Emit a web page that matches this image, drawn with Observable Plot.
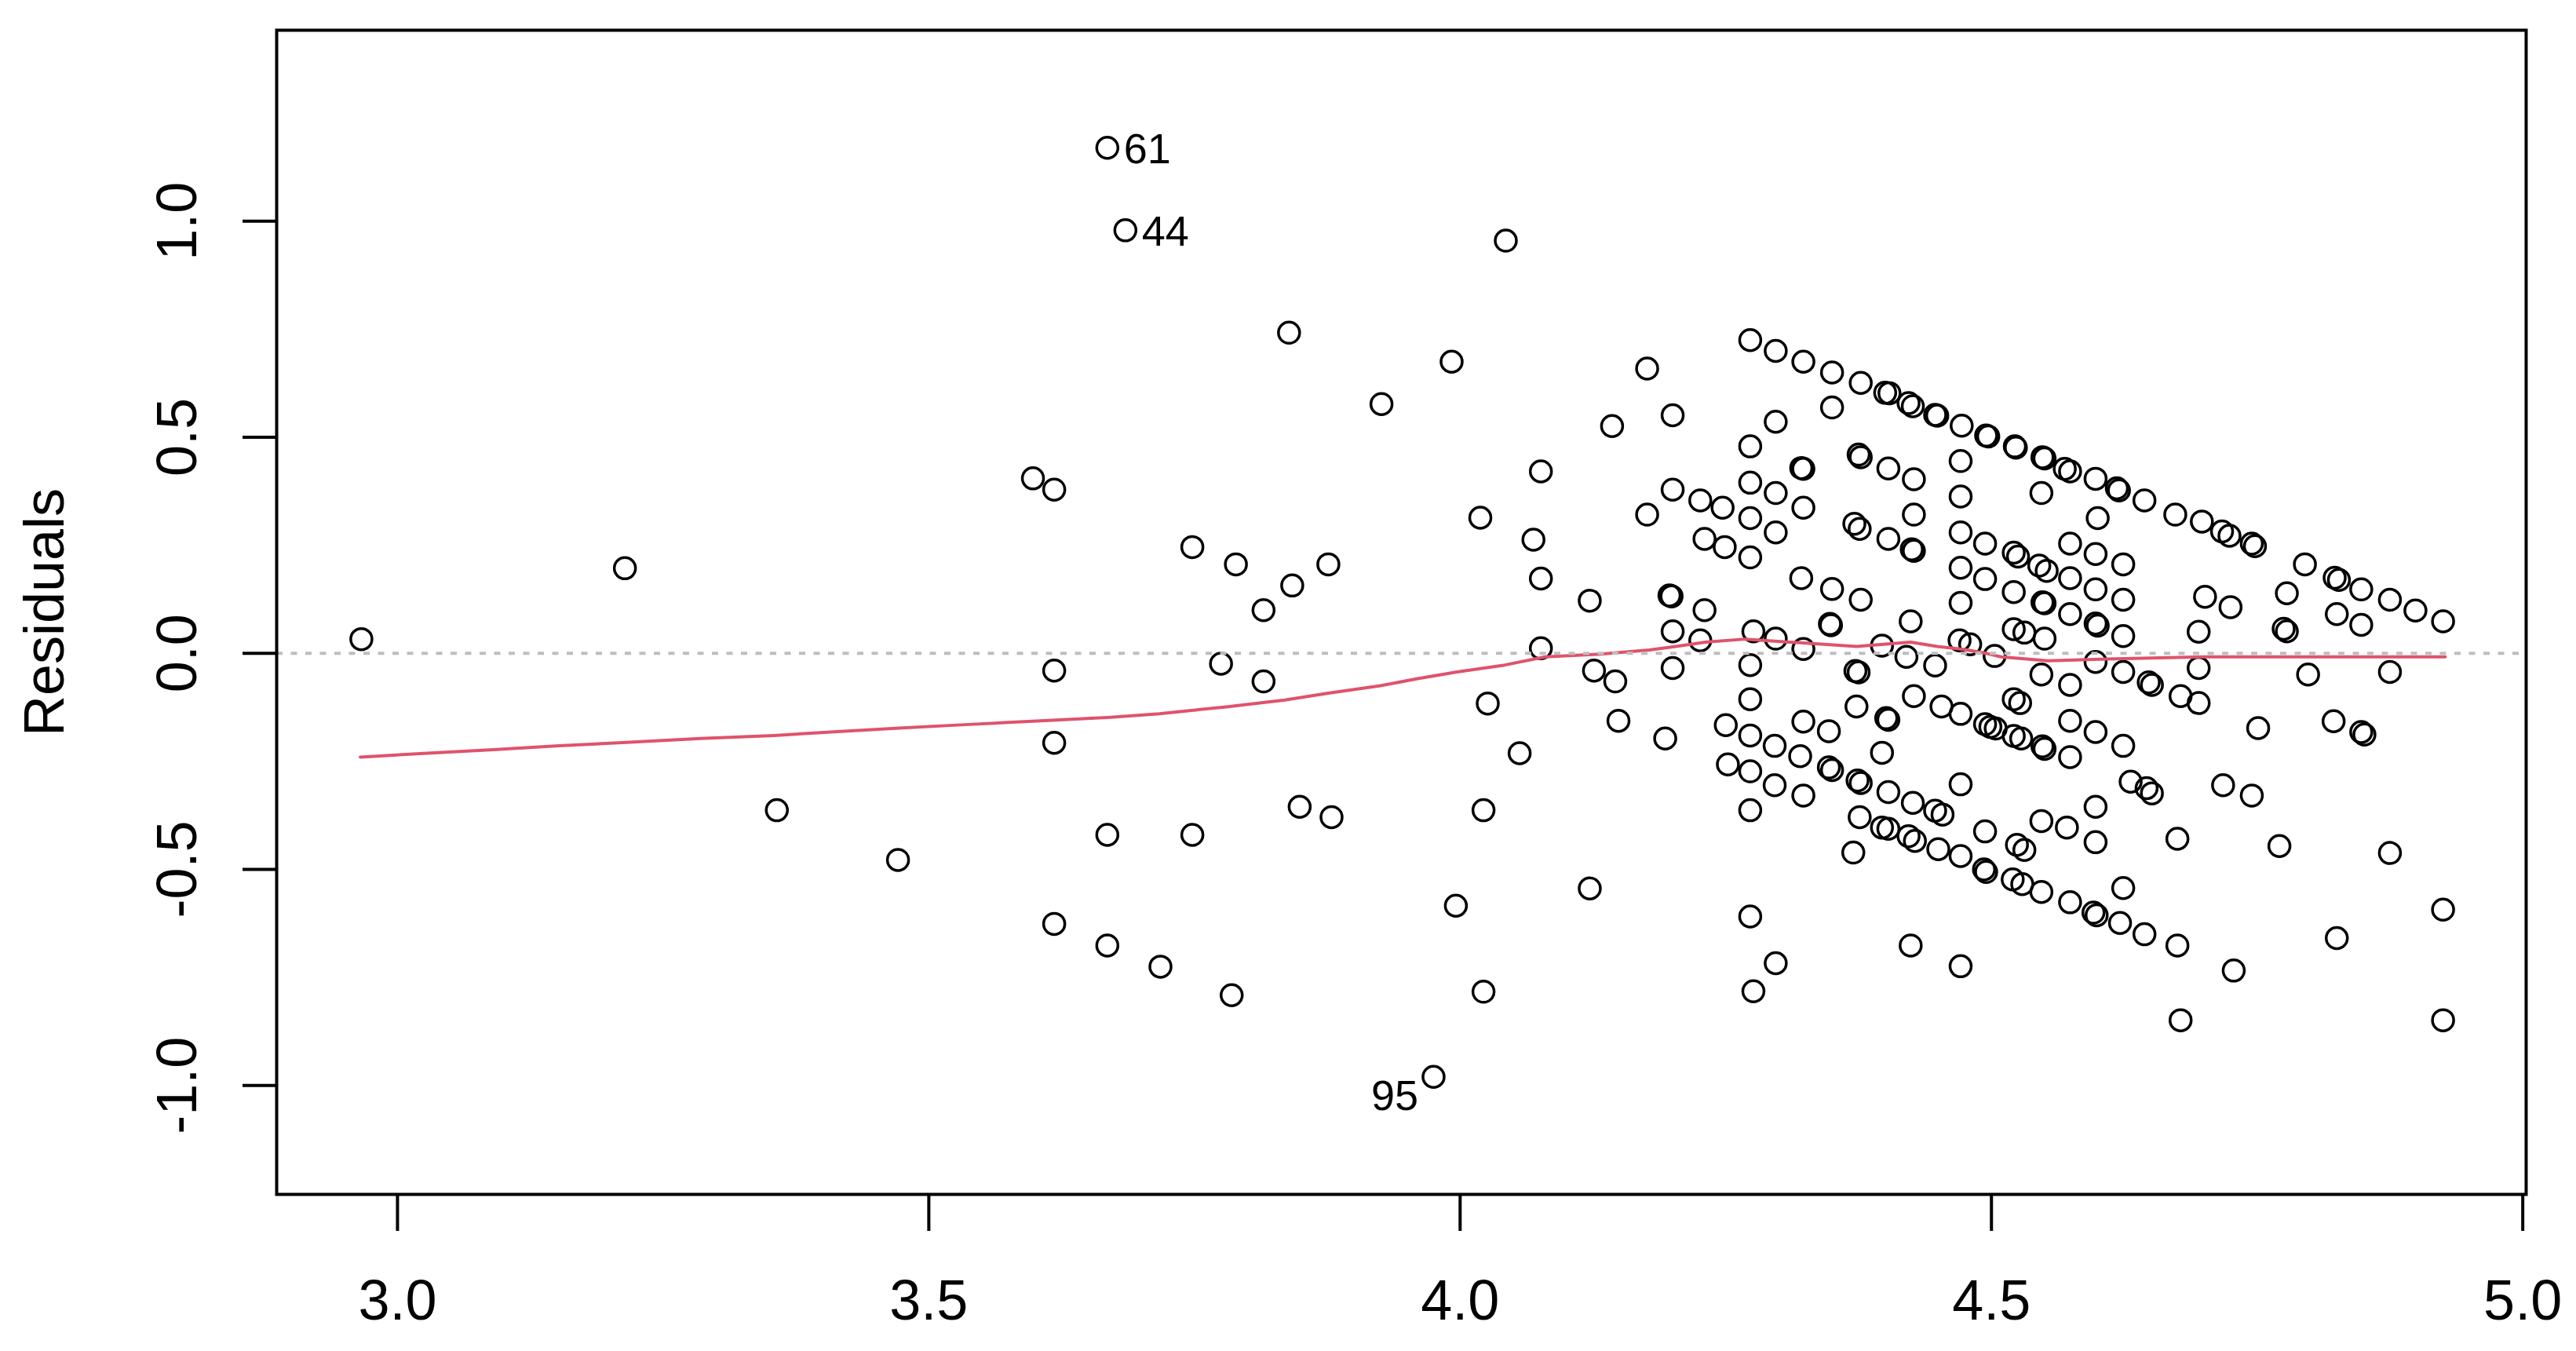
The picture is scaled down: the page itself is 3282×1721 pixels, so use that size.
<!DOCTYPE html>
<html>
<head>
<meta charset="utf-8">
<script src="https://cdn.jsdelivr.net/npm/d3@7"></script>
<script src="https://cdn.jsdelivr.net/npm/@observablehq/plot@0.6"></script>
<style>
  html, body { margin: 0; padding: 0; background: #ffffff; }
  #chart { width: 3282px; height: 1721px; }
</style>
</head>
<body>
<div id="chart"></div>
<script>
// Fitted values and residuals
const fitted = [
  2.966, 3.214, 3.357, 3.471, 3.668, 3.685, 4.043, 3.839, 3.992, 3.926, 4.176, 4.143, 3.598, 3.618, 4.076, 4.019, 4.069, 4.076, 4.122, 4.176, 3.748, 3.789, 3.876, 3.842, 3.815,
  3.618, 3.775, 3.815, 4.076, 4.126, 4.146, 4.026, 4.149, 4.056, 3.618, 3.849, 3.879, 4.022, 3.668, 3.748, 4.122, 3.996, 3.618, 3.668, 3.718, 3.785, 4.022, 3.975,
  4.273, 4.297, 4.323, 4.350, 4.377, 4.400, 4.404, 4.422, 4.426, 4.447, 4.449, 4.472, 4.495, 4.497, 4.522, 4.523, 4.548, 4.550, 4.569, 4.574,
  4.350, 4.200, 4.297, 4.273, 4.321, 4.323, 4.375, 4.377, 4.403, 4.427, 4.471, 4.471, 4.547, 4.200, 4.226, 4.247, 4.273, 4.297, 4.323, 4.273,
  4.297, 4.230, 4.249, 4.273, 4.371, 4.376, 4.403, 4.425, 4.427, 4.427, 4.471, 4.494, 4.521, 4.525, 4.471, 4.494, 4.545, 4.552, 4.574, 4.574,
  4.521, 4.548, 4.550, 4.574, 4.471, 4.321, 4.350, 4.377, 4.348, 4.349, 4.424, 4.197, 4.199, 4.230, 4.200, 4.226, 4.276, 4.297, 4.323, 4.397,
  4.420, 4.447, 4.470, 4.480, 4.503, 4.521, 4.531, 4.550,
  4.200, 4.273, 4.372, 4.375, 4.547, 4.574, 4.273, 4.373, 4.401, 4.403, 4.427, 4.453, 4.471, 4.494, 4.499, 4.504, 4.521, 4.528, 4.548, 4.550,
  4.574, 4.521, 4.527, 4.574, 4.193, 4.250, 4.273, 4.296, 4.320, 4.347, 4.350, 4.374, 4.377, 4.323, 4.347, 4.397, 4.252, 4.273, 4.296, 4.323,
  4.273, 4.403, 4.426, 4.447, 4.454, 4.471, 4.376, 4.397, 4.403, 4.422, 4.428, 4.450, 4.471, 4.370, 4.493, 4.495, 4.520, 4.529, 4.547, 4.574,
  4.494, 4.524, 4.531, 4.547, 4.571, 4.273, 4.297, 4.276, 4.424, 4.471,
  4.598, 4.618, 4.620, 4.644, 4.673, 4.698, 4.717, 4.724, 4.745, 4.748, 4.795, 4.823, 4.827, 4.848, 4.875, 4.899, 4.925,
  4.600, 4.598, 4.624, 4.598, 4.624, 4.598, 4.600, 4.624, 4.701, 4.725, 4.695, 4.778, 4.775, 4.778, 4.825, 4.848, 4.598,
  4.624, 4.648, 4.651, 4.678, 4.695, 4.695, 4.798, 4.875, 4.598, 4.624, 4.751, 4.822, 4.848, 4.851, 4.631, 4.646, 4.651, 4.718, 4.745, 4.598,
  4.598, 4.675, 4.771, 4.875, 4.624, 4.596, 4.599, 4.621, 4.644, 4.675, 4.728, 4.825, 4.925, 4.678, 4.925
];
const residuals = [
  0.033, 0.197, -0.363, -0.478, 1.170, 0.979, 0.955, 0.742, 0.675, 0.577, 0.659, 0.526, 0.405, 0.379, 0.421, 0.314, 0.263, 0.173, 0.122, 0.321, 0.246, 0.206, 0.206, 0.157, 0.100,
  -0.040, -0.024, -0.065, 0.012, -0.040, -0.065, -0.116, -0.156, -0.231, -0.207, -0.355, -0.379, -0.363, -0.420, -0.420, -0.544, -0.584, -0.626, -0.676, -0.725, -0.791, -0.783, -0.980,
  0.725, 0.700, 0.675, 0.650, 0.626, 0.603, 0.602, 0.579, 0.572, 0.552, 0.550, 0.527, 0.504, 0.502, 0.479, 0.476, 0.454, 0.451, 0.427, 0.421,
  0.569, 0.551, 0.536, 0.479, 0.429, 0.427, 0.460, 0.454, 0.428, 0.403, 0.445, 0.363, 0.371, 0.379, 0.354, 0.337, 0.395, 0.371, 0.337, 0.313,
  0.280, 0.265, 0.246, 0.222, 0.300, 0.288, 0.265, 0.241, 0.237, 0.321, 0.280, 0.254, 0.233, 0.224, 0.198, 0.172, 0.203, 0.191, 0.254, 0.174,
  0.142, 0.118, 0.116, 0.091, 0.117, 0.174, 0.149, 0.124, 0.068, 0.065, 0.074, 0.134, 0.132, 0.100, 0.051, 0.030, 0.051, 0.034, 0.010, 0.018,
  -0.008, -0.028, 0.030, 0.021, -0.006, 0.056, 0.048, 0.034,
  -0.034, -0.027, -0.041, -0.044, -0.049, -0.073, -0.106, -0.123, -0.150, -0.154, -0.099, -0.123, -0.140, -0.164, -0.170, -0.174, -0.191, -0.197, -0.215, -0.221,
  -0.240, -0.106, -0.115, -0.156, -0.197, -0.166, -0.190, -0.214, -0.238, -0.264, -0.270, -0.294, -0.300, -0.158, -0.180, -0.230, -0.257, -0.273, -0.305, -0.329,
  -0.363, -0.321, -0.346, -0.364, -0.373, -0.303, -0.379, -0.403, -0.406, -0.423, -0.434, -0.453, -0.469, -0.461, -0.500, -0.506, -0.523, -0.534, -0.552, -0.576,
  -0.412, -0.443, -0.455, -0.388, -0.403, -0.609, -0.717, -0.782, -0.676, -0.724,
  0.404, 0.382, 0.377, 0.354, 0.321, 0.305, 0.282, 0.272, 0.254, 0.248, 0.206, 0.175, 0.170, 0.148, 0.124, 0.099, 0.074,
  0.313, 0.230, 0.206, 0.148, 0.124, 0.069, 0.064, 0.040, 0.131, 0.107, 0.050, 0.139, 0.057, 0.051, 0.091, 0.066, -0.020,
  -0.043, -0.067, -0.073, -0.099, -0.115, -0.034, -0.049, -0.043, -0.182, -0.214, -0.173, -0.157, -0.182, -0.188, -0.297, -0.312, -0.324, -0.305, -0.329, -0.355,
  -0.437, -0.429, -0.446, -0.462, -0.543, -0.600, -0.606, -0.624, -0.650, -0.676, -0.734, -0.659, -0.593, -0.849, -0.849
];

// Smoother (red line)
const smoothX = [2.965, 3.028, 3.090, 3.152, 3.215, 3.285, 3.354, 3.414, 3.472, 3.534, 3.605, 3.671, 3.717, 3.747, 3.780, 3.835, 3.876, 3.925, 3.959, 3.997, 4.042, 4.080, 4.130, 4.178, 4.203, 4.231, 4.268, 4.310, 4.373, 4.424, 4.449, 4.474, 4.495, 4.509, 4.553, 4.609, 4.700, 4.927];
const smoothY = [-0.240, -0.231, -0.223, -0.214, -0.206, -0.197, -0.190, -0.181, -0.173, -0.165, -0.156, -0.148, -0.140, -0.132, -0.124, -0.108, -0.092, -0.075, -0.059, -0.043, -0.027, -0.008, -0.002, 0.008, 0.016, 0.026, 0.033, 0.026, 0.016, 0.026, 0.016, 0.009, 0.000, -0.008, -0.017, -0.013, -0.008, -0.008];

// Labelled observations
const labelIds = ["61", "44", "95"];
const labelFitted = [3.668, 3.685, 3.975];
const labelResid = [1.170, 0.979, -0.980];
const labelSide = ["right", "right", "left"];

// Axis ticks
const xTicks = [3.0, 3.5, 4.0, 4.5, 5.0];
const yTicks = [-1.0, -0.5, 0.0, 0.5, 1.0];

const points = fitted.map((f, i) => ({fitted: f, resid: residuals[i]}));
const smooth = smoothX.map((x, i) => ({x, y: smoothY[i]}));
const labels = labelIds.map((id, i) => ({id, x: labelFitted[i], y: labelResid[i], side: labelSide[i]}));

const chart = Plot.plot({
  width: 3282,
  height: 1721,
  marginLeft: 352,
  marginRight: 64,
  marginTop: 38,
  marginBottom: 200,
  x: {domain: [2.8863, 5.0032], label: null},
  y: {domain: [-1.252, 1.442], label: null},
  style: {fontFamily: "'Liberation Sans', Arial, sans-serif", background: "#ffffff", color: "#000000"},
  marks: [
    Plot.dot(points, {x: "fitted", y: "resid", r: 13.5, stroke: "#000000", strokeWidth: 3.5, fill: "none"}),
    Plot.line(smooth, {x: "x", y: "y", stroke: "#DF536B", strokeWidth: 4}),
    Plot.ruleY([0], {stroke: "#BEBEBE", strokeWidth: 4, strokeDasharray: "8,10.5"}),
    Plot.text(labels, {filter: d => d.side === "right", x: "x", y: "y", text: "id", textAnchor: "start", lineAnchor: "middle", dx: 21, dy: 2, fontSize: 54, fill: "#000000"}),
    Plot.text(labels, {filter: d => d.side === "left", x: "x", y: "y", text: "id", textAnchor: "end", lineAnchor: "middle", dx: -19.5, dy: 24.8, fontSize: 54, fill: "#000000"}),
    Plot.frame({stroke: "#000000", strokeWidth: 4}),
    Plot.axisX({ticks: xTicks, tickSize: 47, tickPadding: 61, strokeWidth: 4, fontSize: 72, tickFormat: d => d.toFixed(1), label: null}),
    Plot.axisY({ticks: yTicks, tickSize: 43, strokeWidth: 4, tickFormat: () => "", label: null}),
    Plot.text(yTicks, {y: d => d, text: d => d.toFixed(1), frameAnchor: "left", dx: -103, rotate: -90, textAnchor: "middle", lineAnchor: "bottom", fontSize: 72, fill: "#000000"}),
    Plot.text(["Residuals"], {frameAnchor: "left", dx: -272, rotate: -90, textAnchor: "middle", lineAnchor: "bottom", fontSize: 72, fill: "#000000"})
  ]
});
document.getElementById("chart").appendChild(chart);
</script>
</body>
</html>
